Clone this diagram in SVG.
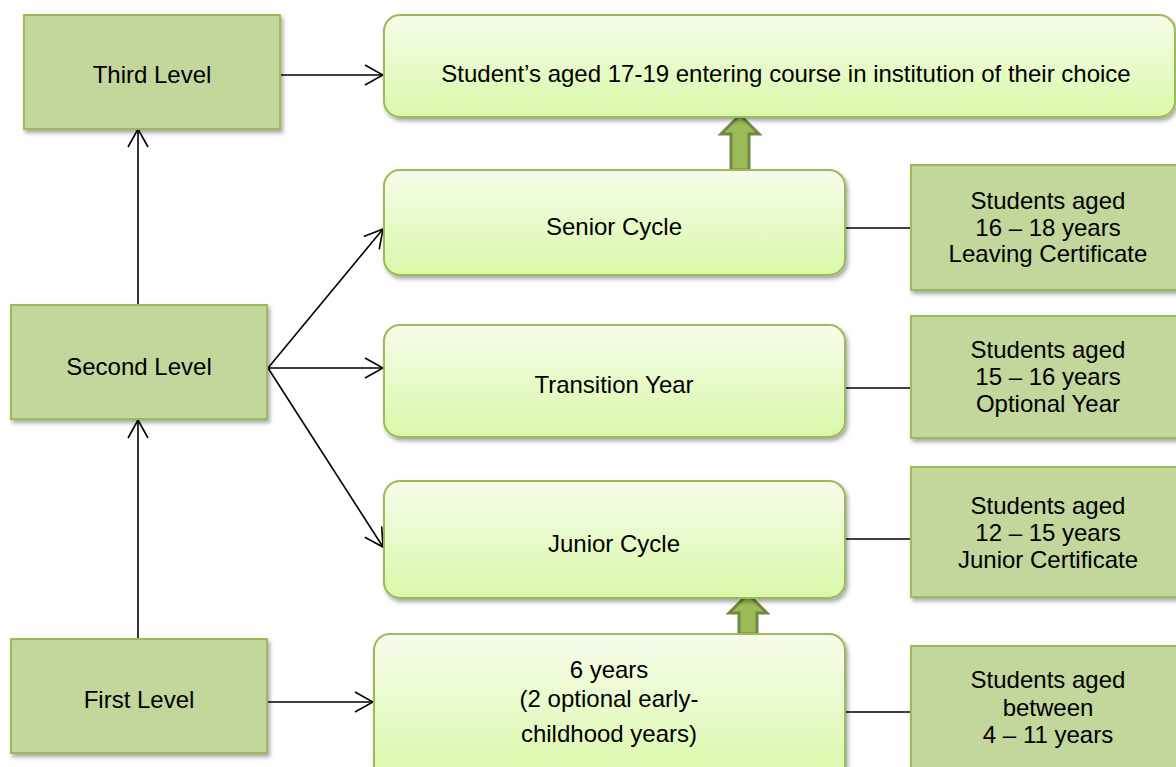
<svg xmlns="http://www.w3.org/2000/svg" width="1176" height="767" viewBox="0 0 1176 767">
<defs>
<linearGradient id="g" x1="0" y1="0" x2="0" y2="1">
<stop offset="0" stop-color="#F6FDEB"/>
<stop offset="1" stop-color="#DAF8A8"/>
</linearGradient>
<filter id="sh" x="-10%" y="-10%" width="130%" height="140%">
<feDropShadow dx="2" dy="3" stdDeviation="2" flood-color="#000" flood-opacity="0.35"/>
</filter>
<marker id="ah" markerWidth="20" markerHeight="22" refX="19" refY="11" orient="auto" markerUnits="userSpaceOnUse">
<path d="M1,1 L19,11 L1,21" fill="none" stroke="#000" stroke-width="1.6"/>
</marker>
<style>
.sq{fill:#C3D69B;stroke:#9BBB59;stroke-width:2;filter:url(#sh)}
.rr{fill:url(#g);stroke:#9BBB59;stroke-width:2;filter:url(#sh)}
.t{font-family:"Liberation Sans",Arial,sans-serif;font-size:24px;fill:#000;text-anchor:middle}
.c{stroke:#000;stroke-width:1.6;fill:none}
.ba{fill:#9BBB59;stroke:#71893F;stroke-width:3}
</style>
</defs>

<g id="connectors">
<line class="c" x1="280" y1="75" x2="383" y2="75" marker-end="url(#ah)"/>
<line class="c" x1="138" y1="305" x2="138" y2="129" marker-end="url(#ah)"/>
<line class="c" x1="138" y1="639" x2="138" y2="420" marker-end="url(#ah)"/>
<line class="c" x1="268" y1="368" x2="383" y2="229" marker-end="url(#ah)"/>
<line class="c" x1="268" y1="368" x2="383" y2="368" marker-end="url(#ah)"/>
<line class="c" x1="268" y1="368" x2="383" y2="547" marker-end="url(#ah)"/>
<line class="c" x1="267" y1="702" x2="373" y2="702" marker-end="url(#ah)"/>
<line class="c" x1="845" y1="228" x2="911" y2="228"/>
<line class="c" x1="845" y1="388" x2="911" y2="388"/>
<line class="c" x1="845" y1="539" x2="911" y2="539"/>
<line class="c" x1="845" y1="712" x2="911" y2="712"/>
<path class="ba" d="M731,170 L731,134 L721,134 L740,115 L759,134 L749,134 L749,170 Z"/>
<path class="ba" d="M739,634 L739,613 L729,613 L748,594 L767,613 L757,613 L757,634 Z"/>
</g>

<g id="third-level">
<rect class="sq" x="24" y="15" width="256" height="114"/>
<text class="t" x="152" y="83">Third Level</text>
</g>
<g id="second-level">
<rect class="sq" x="11" y="305" width="256" height="114"/>
<text class="t" x="139" y="375">Second Level</text>
</g>
<g id="first-level">
<rect class="sq" x="11" y="639" width="256" height="114"/>
<text class="t" x="139" y="708">First Level</text>
</g>

<g id="third-desc">
<rect class="rr" x="384" y="15" width="791" height="102" rx="16"/>
<text class="t" x="786" y="82">Student’s aged 17-19 entering course in institution of their choice</text>
</g>
<g id="senior-cycle">
<rect class="rr" x="384" y="170" width="461" height="105" rx="16"/>
<text class="t" x="614" y="235">Senior Cycle</text>
</g>
<g id="transition-year">
<rect class="rr" x="384" y="325" width="461" height="112" rx="16"/>
<text class="t" x="614" y="393">Transition Year</text>
</g>
<g id="junior-cycle">
<rect class="rr" x="384" y="481" width="461" height="117" rx="16"/>
<text class="t" x="614" y="552">Junior Cycle</text>
</g>
<g id="primary">
<rect class="rr" x="374" y="634" width="471" height="150" rx="16"/>
<text class="t" x="609" y="678">6 years</text>
<text class="t" x="609" y="707">(2 optional early-</text>
<text class="t" x="609" y="742">childhood years)</text>
</g>

<g id="senior-info">
<rect class="sq" x="911" y="165" width="274" height="125"/>
<text class="t" x="1048" y="209">Students aged</text>
<text class="t" x="1048" y="236">16 – 18 years</text>
<text class="t" x="1048" y="262">Leaving Certificate</text>
</g>
<g id="transition-info">
<rect class="sq" x="911" y="316" width="274" height="122"/>
<text class="t" x="1048" y="358">Students aged</text>
<text class="t" x="1048" y="385">15 – 16 years</text>
<text class="t" x="1048" y="412">Optional Year</text>
</g>
<g id="junior-info">
<rect class="sq" x="911" y="467" width="274" height="130"/>
<text class="t" x="1048" y="514">Students aged</text>
<text class="t" x="1048" y="541">12 – 15 years</text>
<text class="t" x="1048" y="568">Junior Certificate</text>
</g>
<g id="first-info">
<rect class="sq" x="911" y="646" width="274" height="140"/>
<text class="t" x="1048" y="688">Students aged</text>
<text class="t" x="1048" y="716">between</text>
<text class="t" x="1048" y="743">4 – 11 years</text>
</g>
</svg>
